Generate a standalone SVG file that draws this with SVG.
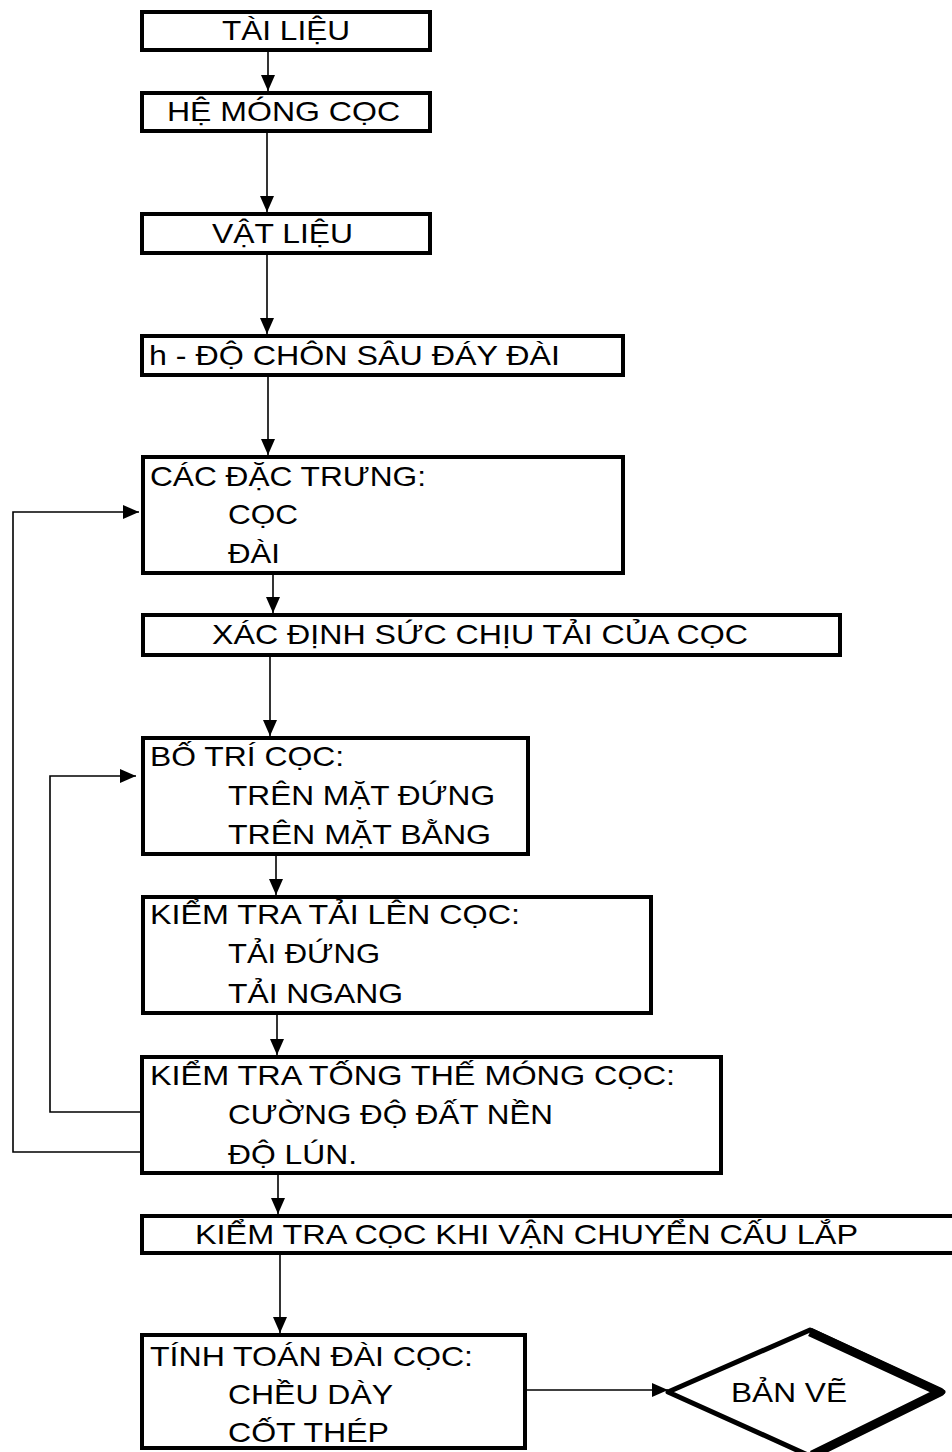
<svg xmlns="http://www.w3.org/2000/svg" width="952" height="1452" viewBox="0 0 952 1452">
<style>
.box{fill:#fff;stroke:#000;stroke-width:4}
.t{font-family:"Liberation Sans",Arial,sans-serif;font-size:28.5px;fill:#000}
.c{fill:none;stroke:#000;stroke-width:1.6}
</style>
<defs>
<marker id="ah" markerUnits="userSpaceOnUse" markerWidth="16" markerHeight="14" refX="16" refY="7" orient="auto">
<path d="M0,0 L16,7 L0,14 z" fill="#000"/>
</marker>
</defs>
<rect width="952" height="1452" fill="#fff"/>
<g id="connectors">
<line class="c" x1="268" y1="52" x2="268" y2="91" marker-end="url(#ah)"/>
<line class="c" x1="267" y1="133" x2="267" y2="212" marker-end="url(#ah)"/>
<line class="c" x1="267" y1="255" x2="267" y2="334" marker-end="url(#ah)"/>
<line class="c" x1="268" y1="377" x2="268" y2="455" marker-end="url(#ah)"/>
<line class="c" x1="273" y1="575" x2="273" y2="613" marker-end="url(#ah)"/>
<line class="c" x1="270" y1="657" x2="270" y2="736" marker-end="url(#ah)"/>
<line class="c" x1="276" y1="856" x2="276" y2="895" marker-end="url(#ah)"/>
<line class="c" x1="277" y1="1015" x2="277" y2="1055" marker-end="url(#ah)"/>
<line class="c" x1="278" y1="1175" x2="278" y2="1214" marker-end="url(#ah)"/>
<line class="c" x1="280" y1="1255" x2="280" y2="1333" marker-end="url(#ah)"/>
<line class="c" x1="527" y1="1390" x2="668" y2="1390" marker-end="url(#ah)"/>
<polyline class="c" points="140,1152 13,1152 13,512 139,512" marker-end="url(#ah)"/>
<polyline class="c" points="140,1112 50,1112 50,776 136,776" marker-end="url(#ah)"/>
</g>
<g id="n1"><rect class="box" x="142" y="12" width="288" height="38"/><text class="t" x="222" y="40" textLength="128" lengthAdjust="spacingAndGlyphs">TÀI LIỆU</text></g>
<g id="n2"><rect class="box" x="142" y="93" width="288" height="38"/><text class="t" x="167" y="121" textLength="233" lengthAdjust="spacingAndGlyphs">HỆ MÓNG CỌC</text></g>
<g id="n3"><rect class="box" x="142" y="214" width="288" height="39"/><text class="t" x="212" y="243" textLength="141" lengthAdjust="spacingAndGlyphs">VẬT LIỆU</text></g>
<g id="n4"><rect class="box" x="142" y="336" width="481" height="39"/><text class="t" x="149" y="365" textLength="411" lengthAdjust="spacingAndGlyphs">h - ĐỘ CHÔN SÂU ĐÁY ĐÀI</text></g>
<g id="n5"><rect class="box" x="143" y="457" width="480" height="116"/>
<text class="t" x="150" y="486" textLength="276" lengthAdjust="spacingAndGlyphs">CÁC ĐẶC TRƯNG:</text>
<text class="t" x="228" y="524" textLength="70" lengthAdjust="spacingAndGlyphs">CỌC</text>
<text class="t" x="228" y="563" textLength="52" lengthAdjust="spacingAndGlyphs">ĐÀI</text></g>
<g id="n6"><rect class="box" x="143" y="615" width="697" height="40"/><text class="t" x="212" y="644" textLength="536" lengthAdjust="spacingAndGlyphs">XÁC ĐỊNH SỨC CHỊU TẢI CỦA CỌC</text></g>
<g id="n7"><rect class="box" x="143" y="738" width="385" height="116"/>
<text class="t" x="150" y="766" textLength="194" lengthAdjust="spacingAndGlyphs">BỐ TRÍ CỌC:</text>
<text class="t" x="228" y="805" textLength="267" lengthAdjust="spacingAndGlyphs">TRÊN MẶT ĐỨNG</text>
<text class="t" x="228" y="844" textLength="263" lengthAdjust="spacingAndGlyphs">TRÊN MẶT BẰNG</text></g>
<g id="n8"><rect class="box" x="143" y="897" width="508" height="116"/>
<text class="t" x="150" y="924" textLength="370" lengthAdjust="spacingAndGlyphs">KIỂM TRA TẢI LÊN CỌC:</text>
<text class="t" x="228" y="963" textLength="152" lengthAdjust="spacingAndGlyphs">TẢI ĐỨNG</text>
<text class="t" x="228" y="1003" textLength="175" lengthAdjust="spacingAndGlyphs">TẢI NGANG</text></g>
<g id="n9"><rect class="box" x="142" y="1057" width="579" height="116"/>
<text class="t" x="150" y="1085" textLength="525" lengthAdjust="spacingAndGlyphs">KIỂM TRA TỐNG THẾ MÓNG CỌC:</text>
<text class="t" x="228" y="1124" textLength="325" lengthAdjust="spacingAndGlyphs">CƯỜNG ĐỘ ĐẤT NỀN</text>
<text class="t" x="228" y="1164" textLength="129" lengthAdjust="spacingAndGlyphs">ĐỘ LÚN.</text></g>
<g id="n10"><rect class="box" x="142" y="1216" width="830" height="37"/><text class="t" x="195" y="1244" textLength="663" lengthAdjust="spacingAndGlyphs">KIỂM TRA CỌC KHI VẬN CHUYỂN CẤU LẮP</text></g>
<g id="n11"><rect class="box" x="142" y="1335" width="383" height="113"/>
<text class="t" x="150" y="1366" textLength="323" lengthAdjust="spacingAndGlyphs">TÍNH TOÁN ĐÀI CỌC:</text>
<text class="t" x="228" y="1404" textLength="165" lengthAdjust="spacingAndGlyphs">CHỀU DÀY</text>
<text class="t" x="228" y="1442" textLength="161" lengthAdjust="spacingAndGlyphs">CỐT THÉP</text></g>
<g id="n12">
<polygon points="668,1392 810,1330 943,1392 810,1456" fill="#fff" stroke="#000" stroke-width="5" stroke-linejoin="round"/>
<polyline points="810,1332 940,1392 812,1455" fill="none" stroke="#000" stroke-width="9" stroke-linejoin="round"/>
<text class="t" x="731" y="1402" textLength="116" lengthAdjust="spacingAndGlyphs">BẢN VẼ</text></g>
</svg>
